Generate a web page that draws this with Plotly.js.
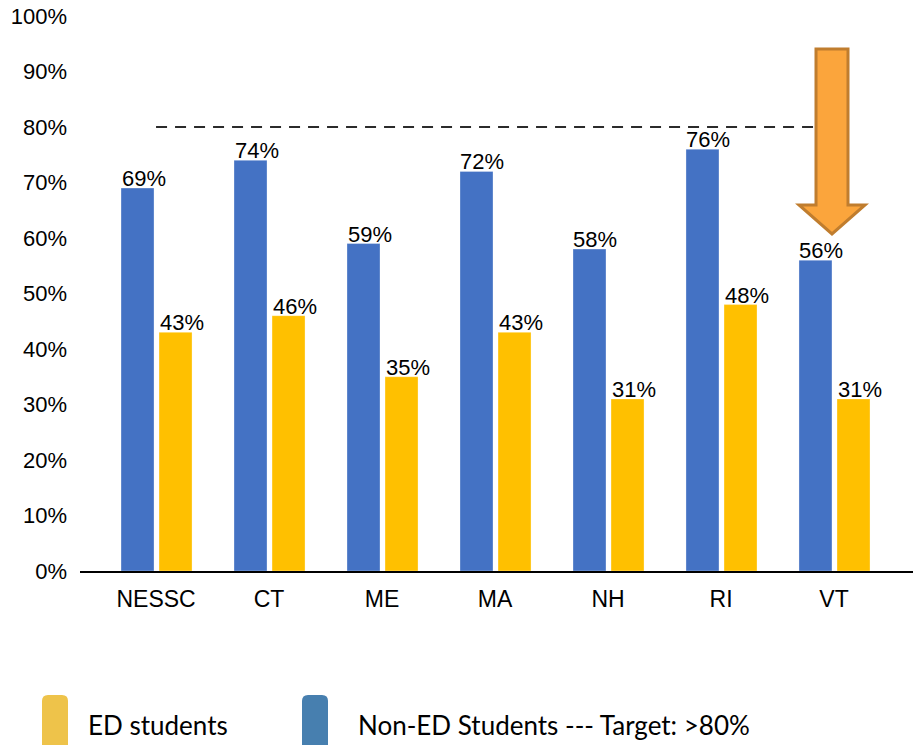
<!DOCTYPE html>
<html>
<head>
<meta charset="utf-8">
<script src="https://cdn.plot.ly/plotly-3.0.1.min.js"></script>
<style>html,body{margin:0;padding:0;background:#fff;}#chart{width:913px;height:745px;}</style>
</head>
<body>
<div id="chart"></div>
<script>
// ---- data ----
const categories = ["NESSC", "CT", "ME", "MA", "NH", "RI", "VT"];
const nonEdValues = [69, 74, 59, 72, 58, 76, 56];
const edValues = [43, 46, 35, 43, 31, 48, 31];
const targetValue = 80;
const yTicks = [0, 10, 20, 30, 40, 50, 60, 70, 80, 90, 100];
const legendLabels = ["ED students", "Non-ED Students --- Target: >80%"];

// ---- layout helpers ----
const W = 913, H = 745;
const M = {l: 80, r: 0, t: 16, b: 174};
const PW = W - M.l - M.r, PH = H - M.t - M.b;
const px = X => (X - M.l) / PW;
const py = Y => (H - M.b - Y) / PH;

const BLUE = "#4472C4", YELLOW = "#FFC000";
const FONT = "Arial, 'Liberation Sans', sans-serif";
const barW = 0.292;
const blueOff = -0.31, yellowOff = 0.0265;

const traces = [
  {
    type: "scatter", mode: "lines",
    x: [categories[0], categories[categories.length - 1]],
    y: [targetValue, targetValue],
    line: {color: "#2b2b2b", width: 2, dash: "11px,8px"},
    hoverinfo: "skip", showlegend: false
  },
  {
    type: "bar", name: "Non-ED Students", x: categories, y: nonEdValues,
    marker: {color: BLUE, line: {color: "rgba(255,255,255,0.6)", width: 0.5}},
    width: barW, offset: blueOff, showlegend: false
  },
  {
    type: "bar", name: "ED students", x: categories, y: edValues,
    marker: {color: YELLOW, line: {color: "rgba(255,255,255,0.6)", width: 0.5}},
    width: barW, offset: yellowOff, showlegend: false
  }
];

const halo = "1px 1px 1px #fff, -1px -1px 1px #fff, 1px -1px 1px #fff, -1px 1px 1px #fff";
const annotations = [];
categories.forEach((c, i) => {
  annotations.push({
    x: c, y: nonEdValues[i], xref: "x", yref: "y",
    text: nonEdValues[i] + "%", showarrow: false,
    xanchor: "center", yanchor: "bottom",
    xshift: (blueOff + barW / 2) * 113 + 6, yshift: -5,
    font: {family: FONT, size: 22, color: "#000", shadow: halo}
  });
  annotations.push({
    x: c, y: edValues[i], xref: "x", yref: "y",
    text: edValues[i] + "%", showarrow: false,
    xanchor: "center", yanchor: "bottom",
    xshift: (yellowOff + barW / 2) * 113 + 6, yshift: -5,
    font: {family: FONT, size: 22, color: "#000", shadow: halo}
  });
});

// legend texts
annotations.push({
  xref: "paper", yref: "paper", x: px(86), y: py(725),
  xanchor: "left", yanchor: "middle", showarrow: false,
  text: legendLabels[0], font: {family: "Lato, 'Open Sans', sans-serif", size: 26, color: "#000"}
});
annotations.push({
  xref: "paper", yref: "paper", x: px(356), y: py(725),
  xanchor: "left", yanchor: "middle", showarrow: false,
  text: legendLabels[1], font: {family: "Lato, 'Open Sans', sans-serif", size: 26, color: "#000"}
});

function roundTopRect(x0, y0, x1, y1, r) {
  // pixel coords -> paper path with rounded top corners
  const P = (X, Y) => px(X) + "," + py(Y);
  return "M " + P(x0, y1) + " L " + P(x0, y0 + r) +
    " Q " + P(x0, y0) + " " + P(x0 + r, y0) +
    " L " + P(x1 - r, y0) +
    " Q " + P(x1, y0) + " " + P(x1, y0 + r) +
    " L " + P(x1, y1) + " Z";
}
function arrowPath() {
  const P = (X, Y) => px(X) + "," + py(Y);
  const cx = 832;
  return "M " + P(cx - 16, 49) + " L " + P(cx + 16, 49) + " L " + P(cx + 16, 205) +
    " L " + P(cx + 33, 205) + " L " + P(cx, 234) + " L " + P(cx - 33, 205) +
    " L " + P(cx - 16, 205) + " Z";
}

const shapes = [
  {type: "path", xref: "paper", yref: "paper", path: arrowPath(),
   fillcolor: "#FBA53C", line: {color: "#C07D2E", width: 3}, layer: "above"},
  {type: "path", xref: "paper", yref: "paper", path: roundTopRect(42, 695, 68, 746, 6),
   fillcolor: "#EEC34A", line: {width: 0}, layer: "above"},
  {type: "path", xref: "paper", yref: "paper", path: roundTopRect(302, 695, 328, 746, 6),
   fillcolor: "#477FAF", line: {width: 0}, layer: "above"}
];

const layout = {
  width: W, height: H,
  margin: M,
  paper_bgcolor: "#fff", plot_bgcolor: "#fff",
  showlegend: false,
  barmode: "group",
  font: {family: FONT, size: 22, color: "#000"},
  xaxis: {
    type: "category", categoryorder: "array", categoryarray: categories,
    range: [-0.673, 6.699],
    showline: true, linecolor: "#000", linewidth: 2,
    showgrid: false, zeroline: false, ticks: "",
    tickfont: {family: FONT, size: 23, color: "#000"},
    ticklabelstandoff: 6
  },
  yaxis: {
    range: [0, 100], tickvals: yTicks, ticktext: yTicks.map(v => v + "%"),
    showgrid: false, zeroline: false, showline: false, ticks: "",
    tickfont: {family: FONT, size: 22, color: "#000"},
    ticklabelstandoff: 12
  },
  annotations: annotations,
  shapes: shapes
};

Plotly.newPlot("chart", traces, layout, {displayModeBar: false, staticPlot: true});
</script>
</body>
</html>
